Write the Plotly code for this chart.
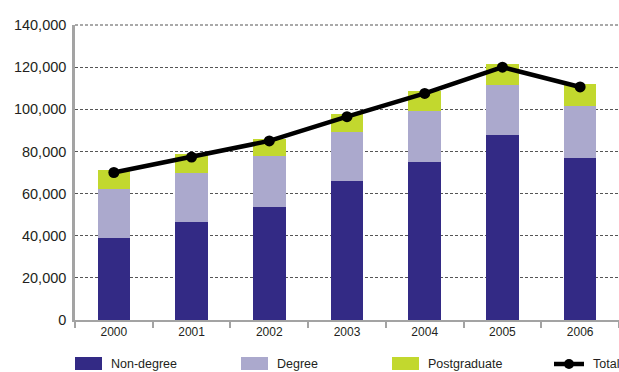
import plotly.graph_objects as go

# Enrolments by year and level of study
years = ["2000", "2001", "2002", "2003", "2004", "2005", "2006"]
non_degree = [39000, 46300, 53800, 66000, 75000, 87600, 76700]
degree = [23400, 23700, 23800, 23000, 24000, 24000, 24700]
postgraduate = [8600, 8600, 8400, 9000, 9500, 9800, 10500]
total = [70000, 77300, 85000, 96500, 107500, 120000, 110600]
y_max = 140000

colors = {"Non-degree": "#332a85", "Degree": "#aba9cd", "Postgraduate": "#c2d82e"}
text_color = "#231f20"
axis_grey = "#a3a3a3"
grid_grey = "#555555"

W, H = 619, 372
M_L, M_R, M_T, M_B = 75, 0, 25, 52
plot_w = W - M_L - M_R
plot_h = H - M_T - M_B

fig = go.Figure()
for name, vals in [("Non-degree", non_degree), ("Degree", degree), ("Postgraduate", postgraduate)]:
    fig.add_trace(go.Bar(x=years, y=vals, name=name, marker=dict(color=colors[name], line=dict(width=0)),
                         showlegend=False))
fig.add_trace(go.Scatter(x=years, y=total, name="Total", mode="lines+markers",
                         line=dict(color="black", width=4.5), marker=dict(color="black", size=11),
                         showlegend=False))


def px_to_paper(px, py):
    return (px - M_L) / plot_w, (H - M_B - py) / plot_h


shapes = []
annotations = []

# top gridline along the upper edge of the value range (paper-referenced so it is not clipped)
shapes.append(dict(type="line", xref="paper", yref="paper", x0=0, x1=1, y0=1, y1=1,
                   line=dict(color=grid_grey, width=1.2, dash="3px,2px"), layer="below"))

# Legend drawn with shapes and text along the bottom
legend_items = [("Non-degree", "bar", 75), ("Degree", "bar", 241), ("Postgraduate", "bar", 392), ("Total", "line", 554)]
sw_top, sw_bot, text_y = 357, 370, 364
for name, kind, x0 in legend_items:
    if kind == "bar":
        ax0, ay0 = px_to_paper(x0, sw_top)
        ax1, ay1 = px_to_paper(x0 + 27, sw_bot)
        shapes.append(dict(type="rect", xref="paper", yref="paper", x0=ax0, x1=ax1, y0=ay1, y1=ay0,
                           fillcolor=colors[name], line=dict(width=0), layer="above"))
        tx = x0 + 34
    else:
        lx0, ly = px_to_paper(x0, text_y)
        lx1, _ = px_to_paper(x0 + 30, text_y)
        shapes.append(dict(type="line", xref="paper", yref="paper", x0=lx0, x1=lx1, y0=ly, y1=ly,
                           line=dict(color="black", width=4.5)))
        cx0, cy0 = px_to_paper(x0 + 10, text_y - 5)
        cx1, cy1 = px_to_paper(x0 + 20, text_y + 5)
        shapes.append(dict(type="circle", xref="paper", yref="paper", x0=cx0, x1=cx1, y0=cy1, y1=cy0,
                           fillcolor="black", line=dict(width=0)))
        tx = x0 + 37
    ax, ay = px_to_paper(tx, text_y)
    annotations.append(dict(text=name, xref="paper", yref="paper", x=ax, y=ay, xanchor="left",
                            yanchor="middle", showarrow=False,
                            font=dict(size=12.5, color=text_color)))

fig.update_layout(
    width=W, height=H,
    margin=dict(l=M_L, r=M_R, t=M_T, b=M_B),
    paper_bgcolor="white", plot_bgcolor="white",
    barmode="stack", bargap=0.58,
    font=dict(family="Liberation Sans, Arial, sans-serif", color=text_color),
    shapes=shapes, annotations=annotations,
)
fig.update_xaxes(
    type="category", showline=True, linecolor=axis_grey, linewidth=2,
    ticks="outside", tickson="boundaries", ticklen=6, tickwidth=2, tickcolor=axis_grey,
    tickfont=dict(size=12, color=text_color), showgrid=False,
)
fig.update_yaxes(
    range=[0, y_max], dtick=20000, tickformat=",",
    showline=True, linecolor=axis_grey, linewidth=2.5,
    showgrid=True, gridcolor=grid_grey, gridwidth=1.2, griddash="3px,2px",
    zeroline=False, ticks="", ticklabelstandoff=3,
    tickfont=dict(size=14.5, color=text_color),
)

fig.write_html("out.html")
